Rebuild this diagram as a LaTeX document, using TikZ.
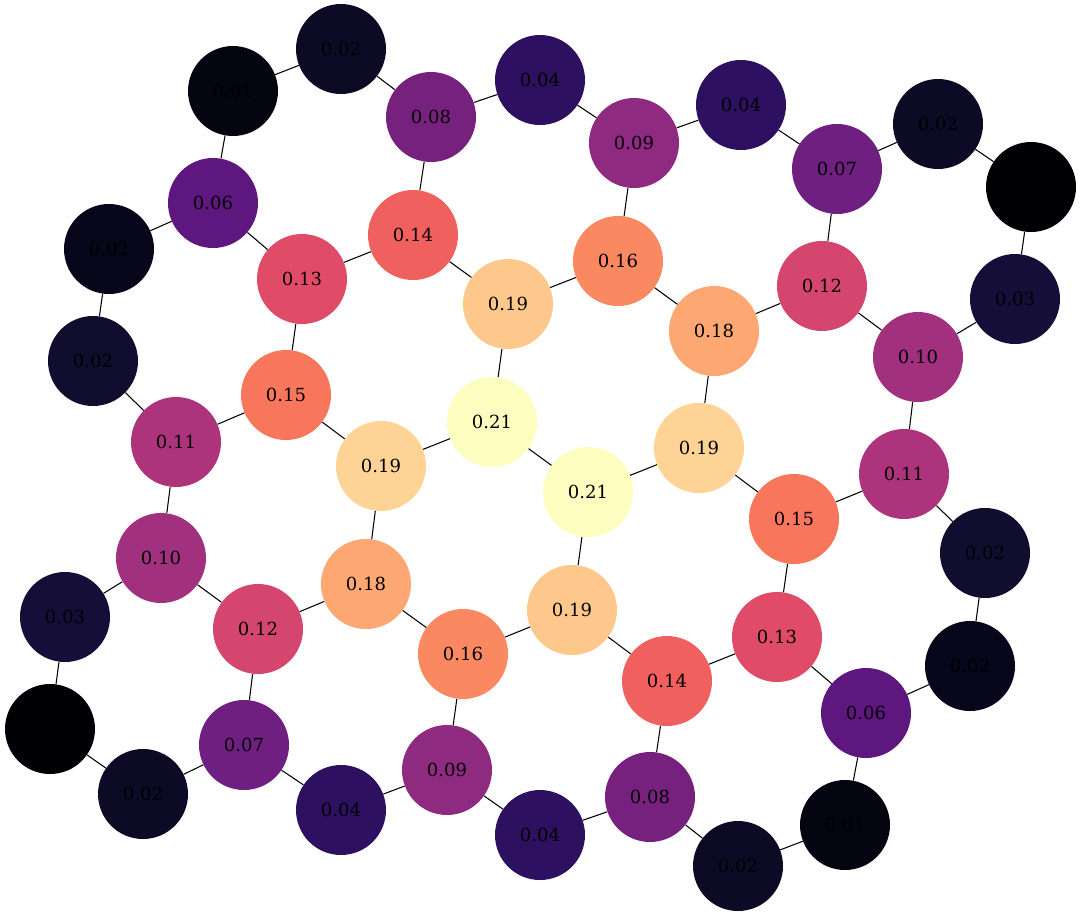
\documentclass[tikz,border=0pt]{standalone}
\usepackage{fontspec}
\setmainfont{DejaVu Serif}
\definecolor{c000}{RGB}{0,0,4}
\definecolor{c001}{RGB}{5,4,17}
\definecolor{c002d}{RGB}{7,6,26}
\definecolor{c002}{RGB}{13,10,38}
\definecolor{c002l}{RGB}{17,13,47}
\definecolor{c003}{RGB}{21,14,56}
\definecolor{c004}{RGB}{45,17,96}
\definecolor{c006}{RGB}{93,23,127}
\definecolor{c007}{RGB}{111,31,128}
\definecolor{c008}{RGB}{119,33,127}
\definecolor{c009}{RGB}{143,42,129}
\definecolor{c010}{RGB}{161,48,126}
\definecolor{c011}{RGB}{173,52,124}
\definecolor{c012}{RGB}{213,70,110}
\definecolor{c013}{RGB}{224,75,104}
\definecolor{c014}{RGB}{240,96,95}
\definecolor{c015}{RGB}{248,118,92}
\definecolor{c016}{RGB}{250,137,97}
\definecolor{c018}{RGB}{253,168,114}
\definecolor{c019a}{RGB}{254,200,141}
\definecolor{c019b}{RGB}{254,211,150}
\definecolor{c021}{RGB}{252,253,191}

\begin{document}
\begin{tikzpicture}[scale=0.3]
\tikzstyle{every node}+=[inner sep=0pt]
\tikzstyle{vtx}=[circle, minimum size=2.7cm, font=\fontsize{15.4}{18}\selectfont]
\useasboundingbox (0,0) rectangle (108.1,-91.6);
\node [vtx, fill=c001] (v1) at (23.3,-9.1) {0.01};
\node [vtx, fill=c002] (v2) at (34.1,-4.9) {0.02};
\node [vtx, fill=c008] (v3) at (43.1,-11.7) {0.08};
\node [vtx, fill=c004] (v4) at (54.0,-8.0) {0.04};
\node [vtx, fill=c009] (v5) at (63.4,-14.3) {0.09};
\node [vtx, fill=c004] (v6) at (74.1,-10.5) {0.04};
\node [vtx, fill=c007] (v7) at (83.7,-16.9) {0.07};
\node [vtx, fill=c002] (v8) at (93.8,-12.4) {0.02};
\node [vtx, fill=c000] (v9) at (103.1,-18.7) {};
\node [vtx, fill=c003] (v10) at (101.5,-29.9) {0.03};
\node [vtx, fill=c010] (v11) at (91.8,-35.7) {0.10};
\node [vtx, fill=c012] (v12) at (82.2,-28.6) {0.12};
\node [vtx, fill=c018] (v13) at (71.4,-33.1) {0.18};
\node [vtx, fill=c016] (v14) at (61.8,-26.1) {0.16};
\node [vtx, fill=c019a] (v15) at (50.8,-30.4) {0.19};
\node [vtx, fill=c014] (v16) at (41.3,-23.5) {0.14};
\node [vtx, fill=c013] (v17) at (30.2,-27.9) {0.13};
\node [vtx, fill=c006] (v18) at (21.3,-20.3) {0.06};
\node [vtx, fill=c002d] (v19) at (10.9,-24.9) {0.02};
\node [vtx, fill=c002l] (v20) at (9.3,-36.1) {0.02};
\node [vtx, fill=c011] (v21) at (17.6,-44.2) {0.11};
\node [vtx, fill=c015] (v22) at (28.6,-39.5) {0.15};
\node [vtx, fill=c019b] (v23) at (38.1,-46.6) {0.19};
\node [vtx, fill=c021] (v24) at (49.2,-42.2) {0.21};
\node [vtx, fill=c021] (v25) at (58.8,-49.2) {0.21};
\node [vtx, fill=c019b] (v26) at (69.9,-44.8) {0.19};
\node [vtx, fill=c015] (v27) at (79.4,-51.9) {0.15};
\node [vtx, fill=c011] (v28) at (90.4,-47.4) {0.11};
\node [vtx, fill=c002l] (v29) at (98.5,-55.3) {0.02};
\node [vtx, fill=c002d] (v30) at (97.0,-66.6) {0.02};
\node [vtx, fill=c006] (v31) at (86.6,-71.3) {0.06};
\node [vtx, fill=c013] (v32) at (77.7,-63.7) {0.13};
\node [vtx, fill=c014] (v33) at (66.7,-68.1) {0.14};
\node [vtx, fill=c019a] (v34) at (57.2,-61.0) {0.19};
\node [vtx, fill=c016] (v35) at (46.3,-65.4) {0.16};
\node [vtx, fill=c018] (v36) at (36.6,-58.4) {0.18};
\node [vtx, fill=c012] (v37) at (25.8,-62.9) {0.12};
\node [vtx, fill=c010] (v38) at (16.1,-55.8) {0.10};
\node [vtx, fill=c003] (v39) at (6.5,-61.7) {0.03};
\node [vtx, fill=c000] (v40) at (5.0,-72.9) {};
\node [vtx, fill=c002] (v41) at (14.3,-79.4) {0.02};
\node [vtx, fill=c007] (v42) at (24.4,-74.5) {0.07};
\node [vtx, fill=c004] (v43) at (34.1,-81.0) {0.04};
\node [vtx, fill=c009] (v44) at (44.7,-77.0) {0.09};
\node [vtx, fill=c004] (v45) at (54.0,-83.5) {0.04};
\node [vtx, fill=c008] (v46) at (65.0,-79.7) {0.08};
\node [vtx, fill=c002] (v47) at (73.8,-86.6) {0.02};
\node [vtx, fill=c001] (v48) at (84.5,-82.5) {0.01};
\draw [black, line width=0.9pt] (v1) -- (v2);
\draw [black, line width=0.9pt] (v2) -- (v3);
\draw [black, line width=0.9pt] (v3) -- (v4);
\draw [black, line width=0.9pt] (v4) -- (v5);
\draw [black, line width=0.9pt] (v5) -- (v6);
\draw [black, line width=0.9pt] (v6) -- (v7);
\draw [black, line width=0.9pt] (v7) -- (v8);
\draw [black, line width=0.9pt] (v8) -- (v9);
\draw [black, line width=0.9pt] (v9) -- (v10);
\draw [black, line width=0.9pt] (v10) -- (v11);
\draw [black, line width=0.9pt] (v11) -- (v12);
\draw [black, line width=0.9pt] (v12) -- (v7);
\draw [black, line width=0.9pt] (v12) -- (v13);
\draw [black, line width=0.9pt] (v13) -- (v14);
\draw [black, line width=0.9pt] (v14) -- (v5);
\draw [black, line width=0.9pt] (v14) -- (v15);
\draw [black, line width=0.9pt] (v15) -- (v16);
\draw [black, line width=0.9pt] (v16) -- (v3);
\draw [black, line width=0.9pt] (v16) -- (v17);
\draw [black, line width=0.9pt] (v17) -- (v18);
\draw [black, line width=0.9pt] (v18) -- (v1);
\draw [black, line width=0.9pt] (v18) -- (v19);
\draw [black, line width=0.9pt] (v19) -- (v20);
\draw [black, line width=0.9pt] (v20) -- (v21);
\draw [black, line width=0.9pt] (v21) -- (v22);
\draw [black, line width=0.9pt] (v22) -- (v17);
\draw [black, line width=0.9pt] (v22) -- (v23);
\draw [black, line width=0.9pt] (v23) -- (v24);
\draw [black, line width=0.9pt] (v24) -- (v15);
\draw [black, line width=0.9pt] (v24) -- (v25);
\draw [black, line width=0.9pt] (v25) -- (v26);
\draw [black, line width=0.9pt] (v26) -- (v13);
\draw [black, line width=0.9pt] (v26) -- (v27);
\draw [black, line width=0.9pt] (v27) -- (v28);
\draw [black, line width=0.9pt] (v28) -- (v11);
\draw [black, line width=0.9pt] (v28) -- (v29);
\draw [black, line width=0.9pt] (v29) -- (v30);
\draw [black, line width=0.9pt] (v30) -- (v31);
\draw [black, line width=0.9pt] (v31) -- (v32);
\draw [black, line width=0.9pt] (v31) -- (v48);
\draw [black, line width=0.9pt] (v32) -- (v27);
\draw [black, line width=0.9pt] (v32) -- (v33);
\draw [black, line width=0.9pt] (v33) -- (v34);
\draw [black, line width=0.9pt] (v33) -- (v46);
\draw [black, line width=0.9pt] (v34) -- (v25);
\draw [black, line width=0.9pt] (v34) -- (v35);
\draw [black, line width=0.9pt] (v35) -- (v36);
\draw [black, line width=0.9pt] (v35) -- (v44);
\draw [black, line width=0.9pt] (v36) -- (v23);
\draw [black, line width=0.9pt] (v36) -- (v37);
\draw [black, line width=0.9pt] (v37) -- (v38);
\draw [black, line width=0.9pt] (v37) -- (v42);
\draw [black, line width=0.9pt] (v38) -- (v21);
\draw [black, line width=0.9pt] (v38) -- (v39);
\draw [black, line width=0.9pt] (v39) -- (v40);
\draw [black, line width=0.9pt] (v40) -- (v41);
\draw [black, line width=0.9pt] (v41) -- (v42);
\draw [black, line width=0.9pt] (v42) -- (v43);
\draw [black, line width=0.9pt] (v43) -- (v44);
\draw [black, line width=0.9pt] (v44) -- (v45);
\draw [black, line width=0.9pt] (v45) -- (v46);
\draw [black, line width=0.9pt] (v46) -- (v47);
\draw [black, line width=0.9pt] (v47) -- (v48);
\end{tikzpicture}
\end{document}
